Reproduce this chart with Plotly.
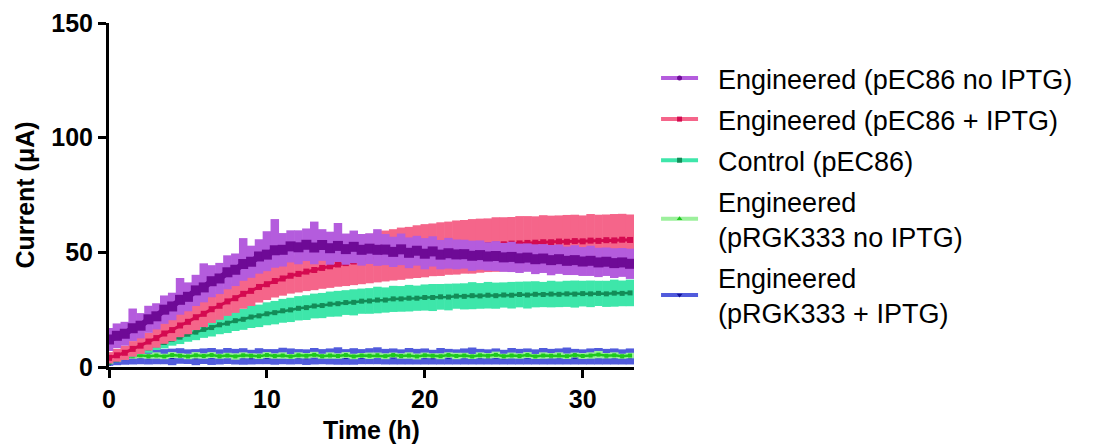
import plotly.graph_objects as go

# ---------------- data ----------------
time_h = [0.0, 0.5, 1.0, 1.5, 2.0, 2.5, 3.0, 3.5, 4.0, 4.5, 5.0, 5.5, 6.0, 6.5, 7.0, 7.5,
          8.0, 8.5, 9.0, 9.5, 10.0, 10.5, 11.0, 11.5, 12.0, 12.5, 13.0, 13.5, 14.0, 14.5,
          15.0, 15.5, 16.0, 16.5, 17.0, 17.5, 18.0, 18.5, 19.0, 19.5, 20.0, 20.5, 21.0,
          21.5, 22.0, 22.5, 23.0, 23.5, 24.0, 24.5, 25.0, 25.5, 26.0, 26.5, 27.0, 27.5,
          28.0, 28.5, 29.0, 29.5, 30.0, 30.5, 31.0, 31.5, 32.0, 32.5, 33.0]

series_names = ["Engineered (pEC86 no IPTG)", "Engineered (pEC86 + IPTG)", "Control (pEC86)",
                "Engineered<br>(pRGK333 no IPTG)", "Engineered<br>(pRGK333 + IPTG)"]

pec86_no_iptg = [12.0, 13.6, 14.5, 16.9, 18.0, 20.8, 22.1, 25.0, 26.4, 29.3, 30.6, 33.4, 34.7,
                 37.4, 38.6, 41.3, 42.4, 44.9, 45.9, 48.2, 49.0, 50.9, 51.1, 52.6, 52.2, 53.3,
                 52.1, 53.2, 51.8, 52.8, 51.4, 52.4, 51.1, 51.6, 51.1, 51.2, 50.2, 51.3, 49.8,
                 50.7, 49.4, 50.4, 49.0, 49.6, 49.1, 49.2, 48.5, 48.8, 48.2, 48.4, 47.8, 48.0,
                 47.4, 47.7, 47.0, 47.3, 46.6, 47.0, 46.3, 46.6, 46.0, 46.3, 45.6, 45.9, 45.3,
                 45.6, 45.0]
pec86_no_iptg_err_up = [5.0, 5.4, 5.2, 8.6, 5.5, 5.9, 5.7, 6.2, 6.0, 9.5, 6.3, 6.8, 10.5, 7.0,
                        6.8, 7.4, 7.1, 11.3, 7.0, 7.5, 10.2, 13.6, 7.3, 7.0, 7.4, 7.1, 11.3, 6.9,
                        7.2, 10.0, 6.8, 7.1, 6.9, 6.7, 9.0, 6.8, 6.6, 6.9, 6.7, 6.5, 6.8, 6.6,
                        6.4, 6.7, 6.5, 6.3, 6.6, 6.4, 6.2, 6.5, 6.3, 6.6, 6.4, 6.2, 6.5, 6.3,
                        6.6, 6.4, 6.2, 6.5, 6.3, 6.6, 6.4, 6.2, 6.5, 6.3, 6.6]
pec86_no_iptg_err_down = [5.0, 5.4, 5.2, 5.6, 5.5, 5.9, 5.7, 6.2, 6.0, 6.5, 6.3, 6.8, 6.5, 7.0,
                          6.8, 7.4, 7.1, 7.3, 7.0, 7.5, 7.2, 7.6, 7.3, 7.0, 7.4, 7.1, 7.3, 6.9,
                          7.2, 7.0, 6.8, 7.1, 6.9, 6.7, 7.0, 6.8, 6.6, 6.9, 6.7, 6.5, 6.8, 6.6,
                          6.4, 6.7, 6.5, 6.3, 6.6, 6.4, 6.2, 6.5, 6.3, 6.6, 6.4, 6.2, 6.5, 6.3,
                          6.6, 6.4, 6.2, 6.5, 6.3, 6.6, 6.4, 6.2, 6.5, 6.3, 6.6]

pec86_iptg = [4.0, 5.1, 6.2, 7.9, 9.3, 11.1, 12.6, 14.6, 16.1, 18.1, 19.7, 21.7, 23.2, 25.2,
              26.7, 28.6, 30.0, 31.9, 33.2, 34.9, 36.1, 37.5, 38.6, 39.8, 40.6, 41.6, 42.3,
              43.2, 43.9, 44.7, 45.3, 46.0, 46.6, 47.3, 47.8, 48.4, 48.9, 49.4, 49.8, 50.3,
              50.7, 51.1, 51.4, 51.8, 52.1, 52.4, 52.6, 52.9, 53.1, 53.4, 53.5, 53.8, 53.9,
              54.1, 54.2, 54.4, 54.4, 54.7, 54.6, 54.9, 54.8, 55.1, 55.0, 55.3, 55.2, 55.5,
              55.4]
pec86_iptg_sd = [2.5, 2.8, 3.1, 3.4, 3.6, 3.9, 4.2, 4.5, 4.8, 5.1, 5.4, 5.6, 5.8, 6.0, 6.1,
                 6.3, 6.4, 6.5, 6.6, 6.8, 6.9, 7.2, 7.5, 7.8, 8.1, 8.5, 8.8, 9.1, 9.4, 9.7,
                 10.0, 10.3, 10.5, 10.8, 10.9, 11.1, 11.2, 11.4, 11.3, 11.5, 11.6, 11.5, 11.7,
                 11.6, 11.8, 11.7, 11.9, 11.8, 11.7, 11.9, 11.8, 11.6, 11.9, 11.7, 11.5, 11.8,
                 11.6, 11.4, 11.7, 11.5, 11.3, 11.6, 11.4, 11.2, 11.5, 11.3, 11.1]

control_pec86 = [2.0, 3.2, 4.7, 5.8, 7.3, 8.3, 9.7, 10.7, 12.1, 13.0, 14.3, 15.2, 16.4, 17.2,
                 18.4, 19.1, 20.2, 20.8, 21.8, 22.3, 23.2, 23.7, 24.5, 24.9, 25.6, 25.9, 26.6,
                 26.8, 27.4, 27.6, 28.1, 28.2, 28.7, 28.8, 29.2, 29.2, 29.7, 29.7, 30.0, 30.0,
                 30.3, 30.3, 30.6, 30.5, 30.9, 30.8, 31.1, 31.0, 31.3, 31.1, 31.4, 31.3, 31.6,
                 31.4, 31.7, 31.6, 31.8, 31.7, 31.9, 31.8, 32.0, 31.9, 32.1, 31.9, 32.2, 32.1,
                 32.3]
control_pec86_sd = [0.8, 1.1, 1.3, 1.6, 1.8, 2.1, 2.3, 2.6, 2.8, 3.0, 3.3, 3.5, 3.7, 3.9, 4.1,
                    4.3, 4.5, 4.6, 4.8, 4.9, 5.0, 5.1, 5.2, 5.3, 5.3, 5.4, 5.4, 5.5, 5.5, 5.6,
                    5.4, 5.7, 5.5, 5.6, 5.8, 5.5, 5.7, 5.6, 5.8, 5.5, 5.7, 5.9, 5.6, 5.8, 5.5,
                    5.7, 5.9, 5.6, 5.8, 5.7, 5.5, 5.8, 5.6, 5.9, 5.7, 5.5, 5.8, 5.6, 5.7, 5.9,
                    5.6, 5.8, 5.5, 5.7, 5.9, 5.6, 5.8]

prgk333_no_iptg = [2.0, 3.5, 4.3, 4.8, 5.1, 4.7, 5.0, 4.6, 5.2, 4.9, 4.6, 5.1, 4.8, 5.2, 4.7,
                   5.0, 4.6, 5.1, 4.9, 4.7, 5.2, 4.8, 5.0, 4.6, 5.1, 4.9, 5.3, 4.7, 5.0, 4.8,
                   5.2, 4.6, 5.0, 4.9, 5.1, 4.7, 5.2, 4.8, 5.0, 4.6, 5.1, 4.9, 4.7, 5.2, 4.8,
                   5.0, 4.6, 5.1, 4.9, 5.3, 4.7, 5.0, 4.8, 5.2, 4.6, 5.0, 4.9, 5.1, 4.7, 5.2,
                   4.8, 5.0, 5.4, 4.9, 5.1, 4.7, 5.0]
prgk333_no_iptg_sd = [0.5, 0.9, 1.1, 1.2, 1.3, 1.1, 1.4, 1.2, 1.3, 1.1, 1.2, 1.4, 1.2, 1.3, 1.1,
                      1.2, 1.4, 1.3, 1.1, 1.2, 1.3, 1.2, 1.4, 1.1, 1.3, 1.2, 1.3, 1.1, 1.4, 1.2,
                      1.3, 1.2, 1.1, 1.4, 1.2, 1.3, 1.1, 1.2, 1.4, 1.3, 1.2, 1.1, 1.3, 1.2, 1.4,
                      1.2, 1.1, 1.3, 1.2, 1.4, 1.1, 1.3, 1.2, 1.3, 1.1, 1.4, 1.2, 1.3, 1.2, 1.1,
                      1.3, 1.4, 1.6, 1.2, 1.3, 1.1, 1.2]

prgk333_iptg = [1.5, 3.0, 3.9, 4.4, 4.6, 4.3, 4.7, 4.5, 4.4, 4.8, 4.5, 4.3, 4.7, 4.6, 4.4,
                4.8, 4.5, 4.6, 4.3, 4.7, 4.5, 4.4, 4.8, 4.6, 4.5, 4.3, 4.7, 4.5, 4.6, 4.8,
                4.4, 4.6, 4.5, 4.7, 4.9, 4.5, 4.6, 4.4, 4.7, 4.5, 4.6, 4.3, 4.7, 4.5, 4.4,
                4.6, 4.8, 4.5, 4.4, 4.6, 4.3, 4.7, 4.5, 4.6, 4.4, 4.7, 4.5, 4.6, 4.8, 4.5,
                4.4, 4.6, 4.7, 4.5, 4.6, 4.4, 4.6]
prgk333_iptg_sd = [1.0, 2.2, 2.9, 3.3, 3.4, 3.2, 3.5, 3.3, 3.6, 3.4, 3.2, 3.5, 3.4, 3.7, 3.3,
                   3.5, 3.4, 3.6, 3.2, 3.5, 3.3, 3.4, 3.6, 3.5, 3.3, 3.4, 3.6, 3.3, 3.5, 3.8,
                   3.4, 3.6, 3.3, 3.5, 3.7, 3.4, 3.5, 3.3, 3.6, 3.4, 3.5, 3.2, 3.6, 3.4, 3.3,
                   3.5, 3.7, 3.4, 3.3, 3.5, 3.2, 3.6, 3.4, 3.5, 3.3, 3.6, 3.4, 3.5, 3.7, 3.4,
                   3.3, 3.5, 3.6, 3.4, 3.5, 3.3, 3.5]

x_ticks = [0, 10, 20, 30]
y_ticks = [0, 50, 100, 150]

# ---------------- styles ----------------
band_colors = ["#B45CDD", "#F5658A", "#3EE6AA", "#9CF09C", "#515BDC"]
mean_colors = ["#6E0A96", "#D40A50", "#138C58", "#1EC81E", "#14149A"]
legend_symbols = ["circle", "square", "square", "triangle-up", "triangle-down"]
mean_sizes = [10, 6, 5, 4, 4]
mean_widths = [6, 3, 2.5, 2.5, 2]

FONT = "Arial, Liberation Sans, Helvetica, sans-serif"
PAD = "\u00a0\u00a0"

fig = go.Figure()

# legend-only entries (in legend order)
for i, name in enumerate(series_names):
    label = "<br>".join(PAD + part for part in name.split("<br>"))
    fig.add_trace(go.Scatter(
        x=[None], y=[None], name=label, mode="lines+markers",
        line=dict(color=band_colors[i], width=4),
        marker=dict(color=mean_colors[i], size=5, symbol=legend_symbols[i]),
        legendgroup=f"g{i}", showlegend=True))

# data: drawn bottom -> top
data_sets = [
    (4, prgk333_iptg, prgk333_iptg_sd, prgk333_iptg_sd),
    (3, prgk333_no_iptg, prgk333_no_iptg_sd, prgk333_no_iptg_sd),
    (2, control_pec86, control_pec86_sd, control_pec86_sd),
    (1, pec86_iptg, pec86_iptg_sd, pec86_iptg_sd),
    (0, pec86_no_iptg, pec86_no_iptg_err_up, pec86_no_iptg_err_down),
]
for idx, mean, up, down in data_sets:
    fig.add_trace(go.Scatter(
        x=time_h, y=mean, mode="lines+markers", showlegend=False,
        line=dict(color=mean_colors[idx], width=mean_widths[idx]),
        marker=dict(color=mean_colors[idx], size=mean_sizes[idx], symbol="square"),
        error_y=dict(type="data", array=up, arrayminus=down, symmetric=False,
                     color=band_colors[idx], thickness=8.5, width=0),
        hoverinfo="skip"))

fig.update_layout(
    width=1096, height=448,
    margin=dict(l=109, r=462, t=23, b=81, autoexpand=False),
    paper_bgcolor="white", plot_bgcolor="white",
    font=dict(family=FONT, color="black"),
    legend=dict(x=1.042, y=0.91, xanchor="left", yanchor="top",
                font=dict(size=27, family=FONT, color="black"),
                tracegroupgap=3, itemwidth=37, bgcolor="rgba(0,0,0,0)",
                traceorder="grouped"),
    xaxis=dict(range=[0, 33.25], tickvals=x_ticks, ticktext=[str(v) for v in x_ticks],
               showgrid=False, zeroline=False, showline=True, linewidth=3, linecolor="black",
               ticks="outside", ticklen=8, tickwidth=3, tickcolor="black",
               tickfont=dict(size=25, family=FONT, weight="bold"),
               title=dict(text="Time (h)", font=dict(size=25, family=FONT, weight="bold"),
                          standoff=10)),
    yaxis=dict(range=[0, 150], tickvals=y_ticks, ticktext=[str(v) for v in y_ticks],
               showgrid=False, zeroline=False, showline=True, linewidth=3, linecolor="black",
               ticks="outside", ticklen=8, tickwidth=3, tickcolor="black",
               tickfont=dict(size=25, family=FONT, weight="bold"),
               title=dict(text="Current (μA)", font=dict(size=25, family=FONT, weight="bold"),
                          standoff=10)),
)

fig.write_html("out.html")
